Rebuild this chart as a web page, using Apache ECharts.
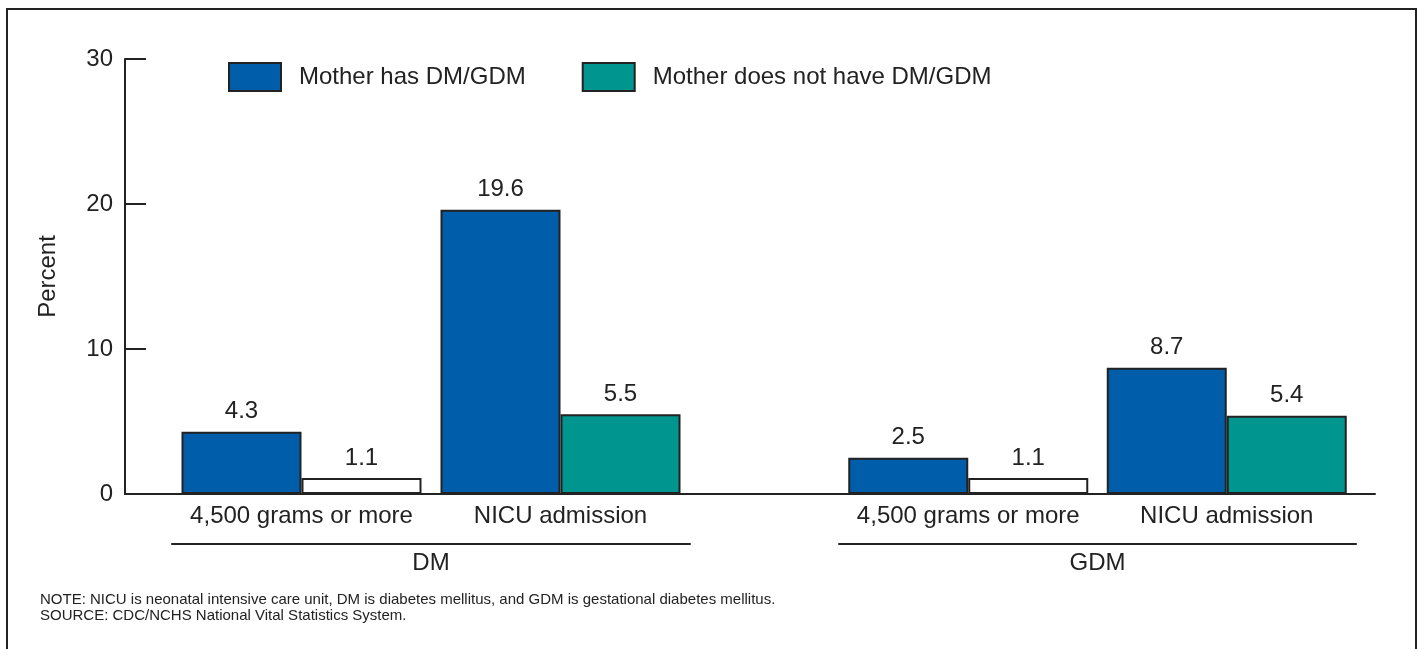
<!DOCTYPE html>
<html style="height: 100%">
<head>
<meta charset="utf-8">
<script src="https://cdn.jsdelivr.net/npm/echarts@6/dist/echarts.min.js"></script>
</head>
<body style="height: 100%; margin: 0; background: #fff">
<div id="container" style="width: 1424px; height: 649px"></div>
<script type="text/javascript">
var measures = ['4,500 grams or more', 'NICU admission'];
var groups = ['DM', 'GDM'];
var seriesNames = ['Mother has DM/GDM', 'Mother does not have DM/GDM'];
var dmHas = [4.3, 19.6];
var dmNot = [1.1, 5.5];
var gdmHas = [2.5, 8.7];
var gdmNot = [1.1, 5.4];
var yTicks = [0, 10, 20, 30];

var BLUE = '#005daa', TEAL = '#00958f', INK = '#222';
var FONT = '"Liberation Sans", Arial, Helvetica, sans-serif';

var dom = document.getElementById('container');
var myChart = echarts.init(dom);

// the 4,500 g bar for mothers without DM/GDM is drawn unfilled in the original
function notData(arr) {
    return arr.map(function (v, i) {
        return i === 0 ? { value: v, itemStyle: { color: '#fff' } } : v;
    });
}

function barSeries(name, data, xIdx, yIdx, color) {
    return {
        name: name,
        type: 'bar',
        xAxisIndex: xIdx,
        yAxisIndex: yIdx,
        data: data,
        barWidth: 120,
        barGap: '0%',
        itemStyle: { color: color, borderColor: INK, borderWidth: 2 },
        label: {
            show: true,
            position: 'top',
            distance: 8,
            fontSize: 24,
            color: INK,
            fontFamily: FONT
        }
    };
}

// each group gets its own grid: one axis for the measure labels,
// one lower axis whose line is the bracket over the group name
function groupAxes(gridIndex, name) {
    return [{
        type: 'category',
        gridIndex: gridIndex,
        data: measures,
        axisLine: { show: false },
        axisTick: { show: false },
        axisLabel: { interval: 0, fontSize: 24, color: INK, margin: 10, fontFamily: FONT }
    }, {
        type: 'category',
        gridIndex: gridIndex,
        position: 'bottom',
        offset: 50,
        data: [name],
        axisLine: { show: true, lineStyle: { color: INK, width: 2 } },
        axisTick: { show: false },
        axisLabel: { interval: 0, fontSize: 24, color: INK, margin: 7, fontFamily: FONT }
    }];
}

var ax1 = groupAxes(1, groups[0]);
var ax2 = groupAxes(2, groups[1]);

var option = {
    animation: false,
    textStyle: { fontFamily: FONT },
    title: {
        left: 40,
        top: 592,
        padding: 0,
        text: 'NOTE: NICU is neonatal intensive care unit, DM is diabetes mellitus, and GDM is gestational diabetes mellitus.\nSOURCE: CDC/NCHS National Vital Statistics System.',
        textStyle: { fontSize: 15, fontWeight: 'normal', color: INK, lineHeight: 16, fontFamily: FONT }
    },
    legend: {
        left: 228,
        top: 62,
        padding: 0,
        itemWidth: 52,
        itemHeight: 28,
        itemGap: 56,
        icon: 'rect',
        selectedMode: false,
        data: seriesNames,
        itemStyle: { borderColor: INK, borderWidth: 2 },
        textStyle: { fontSize: 24, color: INK, padding: [0, 0, 0, 13], fontFamily: FONT }
    },
    graphic: [{
        type: 'rect',
        shape: { x: 7, y: 9, width: 1409, height: 660 },
        style: { fill: 'none', stroke: INK, lineWidth: 2 },
        silent: true
    }],
    grid: [
        { left: 125, right: 49, top: 59, bottom: 155 },
        { left: 172, width: 518, top: 59, bottom: 155 },
        { left: 839, width: 517, top: 59, bottom: 155 }
    ],
    xAxis: [{
        type: 'value',
        gridIndex: 0,
        min: 0,
        max: 1,
        axisLine: { show: true, onZero: false, lineStyle: { color: INK, width: 2 } },
        axisTick: { show: false },
        axisLabel: { show: false },
        splitLine: { show: false }
    }, ax1[0], ax1[1], ax2[0], ax2[1]],
    yAxis: [{
        type: 'value',
        gridIndex: 0,
        min: yTicks[0],
        max: yTicks[yTicks.length - 1],
        interval: 10,
        name: 'Percent',
        nameLocation: 'middle',
        nameRotate: 90,
        nameGap: 65,
        nameTextStyle: { fontSize: 24, color: INK, fontFamily: FONT },
        axisLine: { show: true, lineStyle: { color: INK, width: 2 } },
        axisTick: { show: true, inside: true, length: 21, lineStyle: { color: INK, width: 2 } },
        axisLabel: { fontSize: 24, color: INK, margin: 12, fontFamily: FONT },
        splitLine: { show: false }
    }, {
        type: 'value', gridIndex: 1, min: 0, max: 30, show: false
    }, {
        type: 'value', gridIndex: 2, min: 0, max: 30, show: false
    }],
    series: [
        barSeries(seriesNames[0], dmHas, 1, 1, BLUE),
        barSeries(seriesNames[1], notData(dmNot), 1, 1, TEAL),
        barSeries(seriesNames[0], gdmHas, 3, 2, BLUE),
        barSeries(seriesNames[1], notData(gdmNot), 3, 2, TEAL)
    ]
};

myChart.setOption(option);
window.onresize = function () {
    myChart.resize();
};
</script>
</body>
</html>
